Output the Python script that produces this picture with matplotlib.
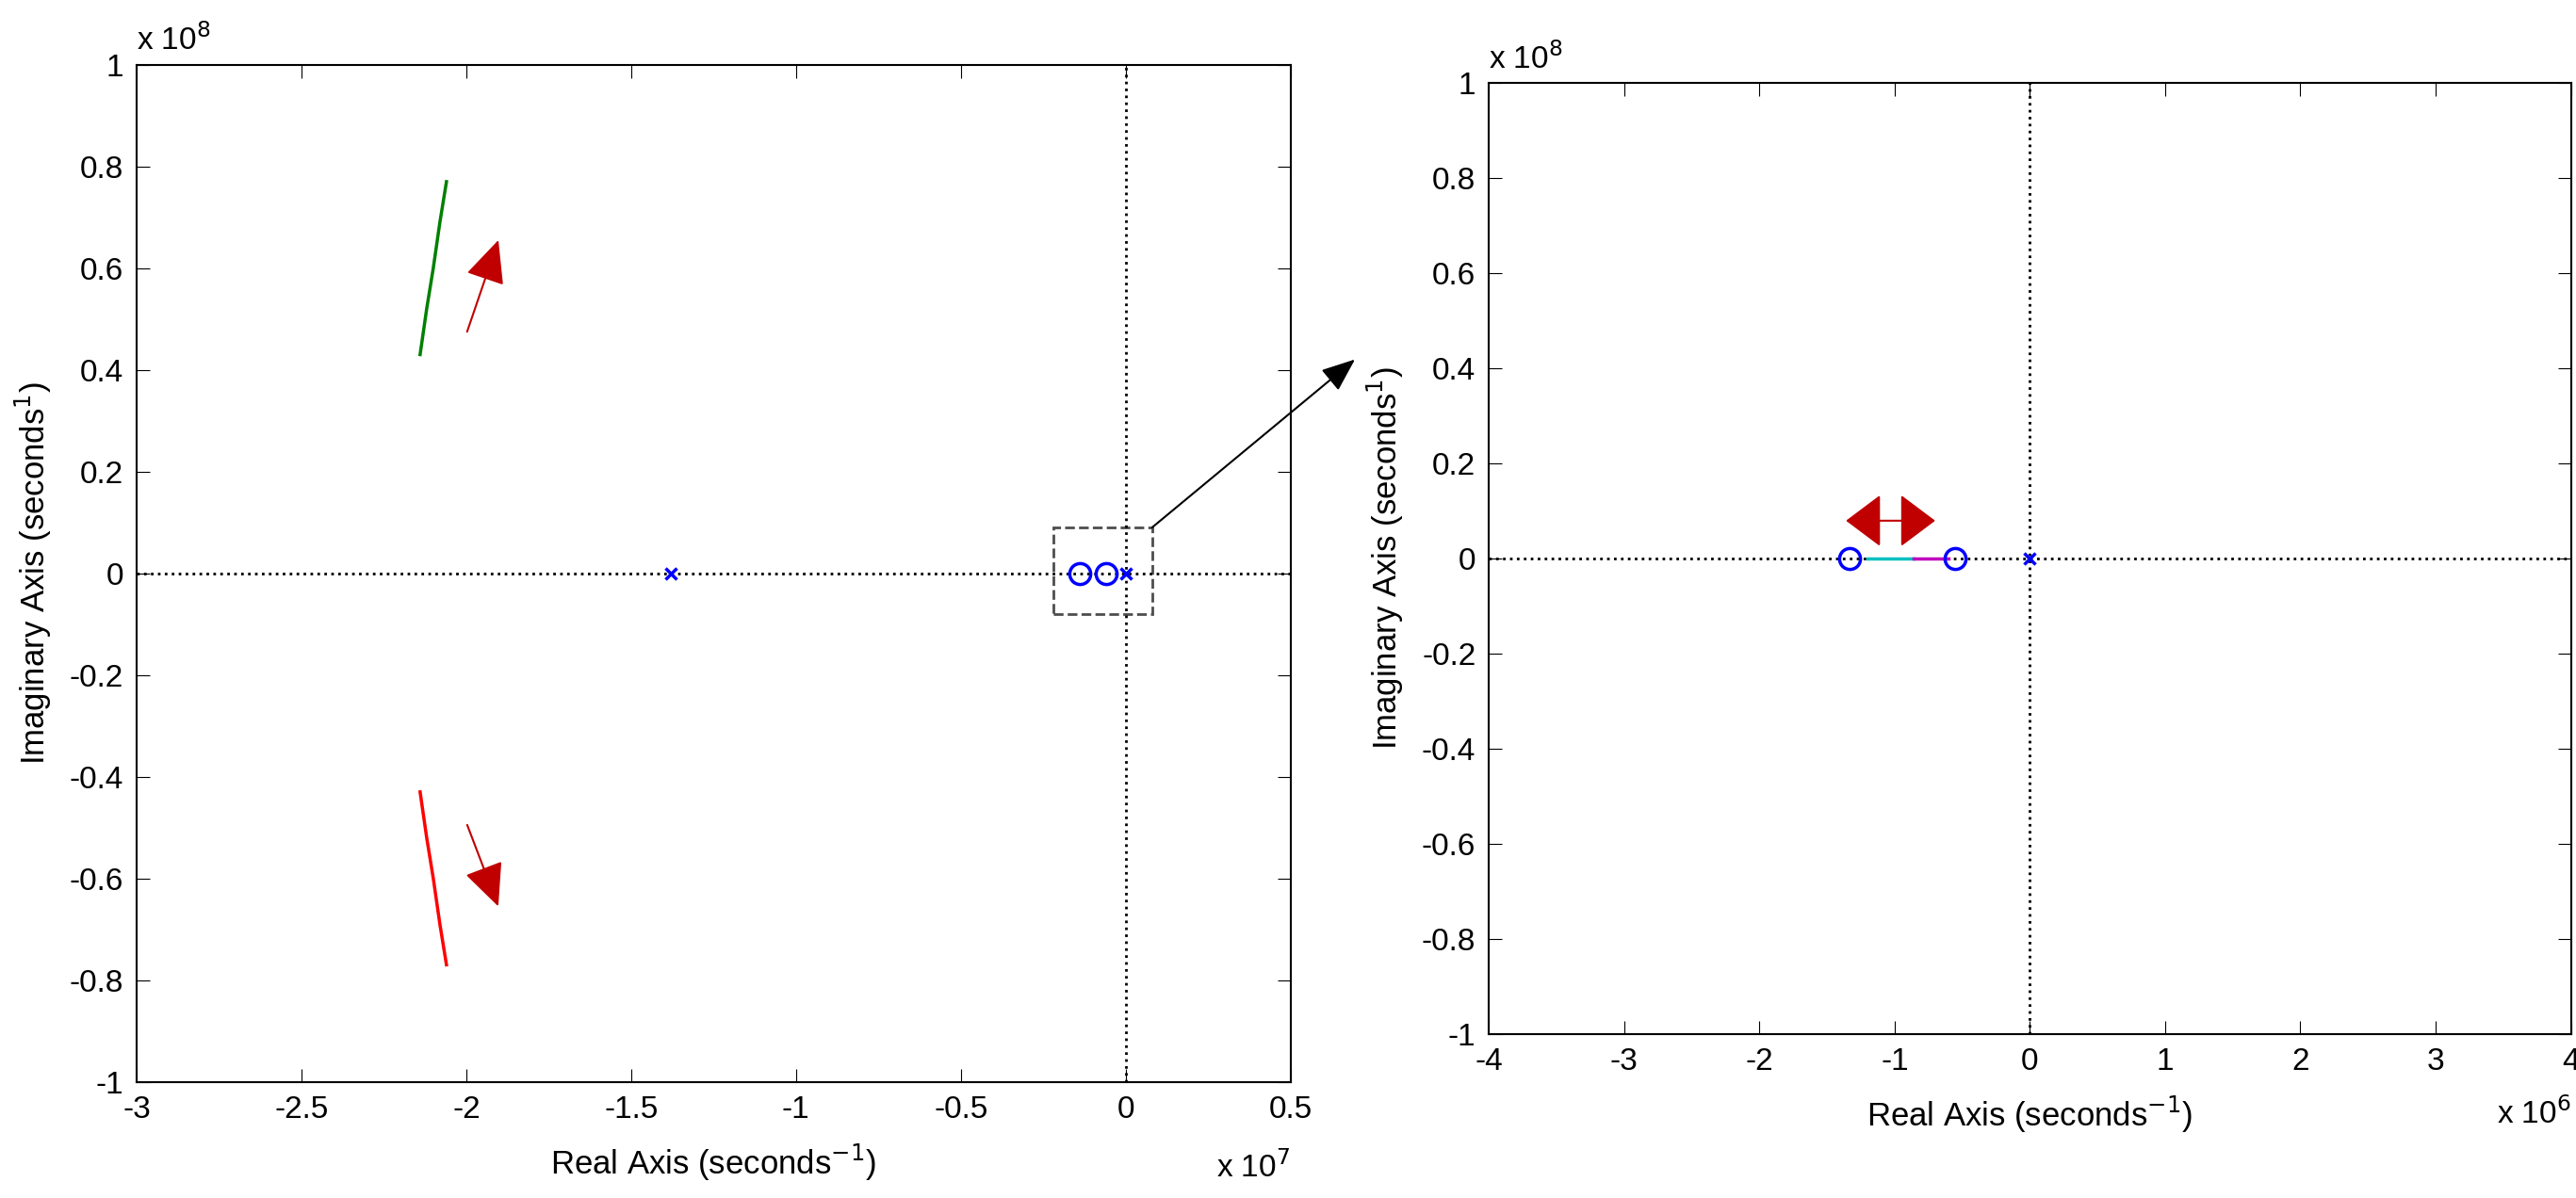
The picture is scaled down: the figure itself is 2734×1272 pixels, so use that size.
import matplotlib
matplotlib.use("Agg")
import matplotlib.pyplot as plt
from matplotlib.patches import Rectangle, ConnectionPatch, FancyArrowPatch

plt.rcParams['font.family'] = ['Liberation Sans', 'DejaVu Sans']
plt.rcParams['font.size'] = 24

# root locus branches (real, imag)
green_re = [-2.14e7, -2.12e7, -2.10e7, -2.08e7, -2.06e7]
green_im = [0.43e8, 0.52e8, 0.60e8, 0.69e8, 0.77e8]
red_re = green_re
red_im = [-v for v in green_im]
pole_left = [-1.38e7, 0.0]
zeros_left = [-1.4e6, -0.6e6]
zeros = [-1.33e6, -0.55e6]
cyan_re = [-1.2e6, -0.86e6]
mag_re = [-0.86e6, -0.6e6]

fig = plt.figure(figsize=(27.34, 12.72), dpi=100)
ax1 = fig.add_axes([0.053, 0.097, 0.448, 0.849])
ax2 = fig.add_axes([0.578, 0.137, 0.420, 0.794])

def style(ax, xlim, xticks, xexp):
    ax.set_ylim(-1e8, 1e8)
    ax.set_xlim(*xlim)
    ax.set_yticks([i * 0.2e8 for i in range(-5, 6)])
    ax.set_yticklabels(['-1', '-0.8', '-0.6', '-0.4', '-0.2', '0', '0.2', '0.4', '0.6', '0.8', '1'])
    ax.set_xticks([t * 10**xexp for t in xticks])
    ax.set_xticklabels([('%g' % t) for t in xticks])
    ax.tick_params(direction='in', length=10, top=True, right=True, labelsize=24, pad=10)
    for s in ax.spines.values():
        s.set_linewidth(1.5)
    ax.axhline(0, color='k', ls=':', lw=2)
    ax.axvline(0, color='k', ls=':', lw=2)
    ax.set_xlabel('Real Axis (seconds$^{-1}$)', fontsize=25, labelpad=14)
    ax.set_ylabel('Imaginary Axis (seconds$^{1}$)', fontsize=25, labelpad=12)
    ax.text(0.0, 1.008, r'x 10$^{8}$', transform=ax.transAxes, fontsize=24, va='bottom')
    ax.text(1.0, -0.084, r'x 10$^{%d}$' % xexp, transform=ax.transAxes, fontsize=24, va='center', ha='right')

style(ax1, (-3e7, 0.5e7), [-3, -2.5, -2, -1.5, -1, -0.5, 0, 0.5], 7)
style(ax2, (-4e6, 4e6), [-4, -3, -2, -1, 0, 1, 2, 3, 4], 6)

# left plot
ax1.plot(green_re, green_im, color='green', lw=2.5)
ax1.plot(red_re, red_im, color='red', lw=2.5)
ax1.plot(pole_left, [0, 0], 'bx', ms=8, mew=2.5)
ax1.plot(zeros_left, [0, 0], 'o', mfc='none', mec='b', ms=16, mew=2.5)
ax1.add_patch(Rectangle((-0.22e7, -0.08e8), 0.30e7, 0.17e8, fill=False, ls='--', ec='0.3', lw=2))
for y0, y1 in [(0.47e8, 0.66e8), (-0.49e8, -0.66e8)]:
    ax1.add_patch(FancyArrowPatch((-2.0e7, y0), (-1.9e7, y1), arrowstyle='-|>,head_length=1.3,head_width=0.6',
                                  mutation_scale=22, color='#c00000', lw=1.5))
con = ConnectionPatch(xyA=(0.08e7, 0.09e8), coordsA=ax1.transData,
                      xyB=(0.526, 0.700), coordsB=fig.transFigure,
                      arrowstyle='-|>,head_length=1.0,head_width=0.4', mutation_scale=22, color='k', lw=1.5)
fig.add_artist(con)

# right plot
ax2.plot(cyan_re, [0, 0], color='c', lw=2.5)
ax2.plot(mag_re, [0, 0], color='m', lw=2.5)
ax2.plot(zeros, [0, 0], 'o', mfc='none', mec='b', ms=16, mew=2.5)
ax2.plot([0], [0], 'bx', ms=8, mew=2.5)
ax2.add_patch(FancyArrowPatch((-1.36e6, 0.079e8), (-0.70e6, 0.079e8), arrowstyle='<|-|>,head_length=0.6,head_width=0.45',
                              mutation_scale=40, color='#c00000', lw=1.5, shrinkA=0, shrinkB=0))

fig.savefig('out.png', dpi=100)
